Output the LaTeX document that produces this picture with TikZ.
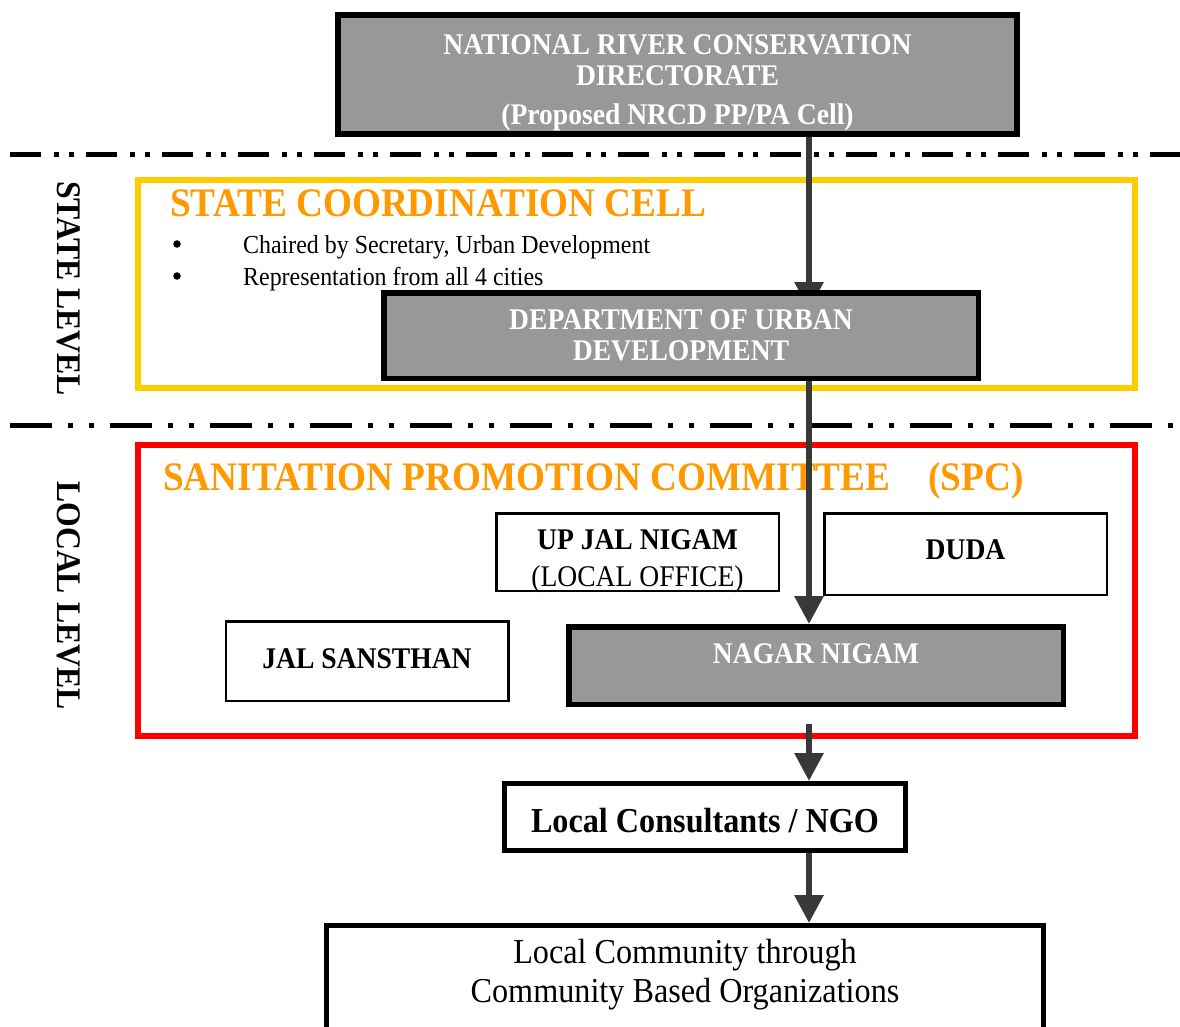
\documentclass[tikz,border=0pt]{standalone}
\usepackage{fontspec}
\setmainfont{Liberation Serif}[FakeStretch=0.92]
\usepackage{tikz}
\usetikzlibrary{arrows.meta, positioning}
\definecolor{boxgray}{HTML}{989898}
\definecolor{linkgray}{HTML}{383838}
\definecolor{cellyellow}{HTML}{FFCC00}
\definecolor{titleorange}{HTML}{FF9900}
\pgfdeclarelayer{frames}
\pgfdeclarelayer{links}
\pgfsetlayers{frames,links,main}
\tikzset{
  govbox/.style={rectangle, draw=black, line width=5.5pt, fill=boxgray,
                 text=white, align=center, inner sep=0pt,
                 font=\bfseries\fontsize{30}{31}\selectfont},
  unitbox/.style={rectangle, draw=black, line width=2.5pt, fill=white,
                  align=center, inner sep=0pt, minimum width=282.5pt,
                  font=\fontsize{30}{37}\selectfont},
  outbox/.style={rectangle, draw=black, line width=5pt, fill=white,
                 align=center, inner sep=0pt},
  frame/.style={rectangle, line width=6pt, inner sep=0pt},
  levelline/.style={line width=5pt},
  link/.style={draw=linkgray, line width=6pt,
               -{Triangle[width=28pt,length=28pt]}},
  leveltext/.style={rotate=-90, font=\bfseries\fontsize{34.5}{34}\selectfont},
  heading/.style={anchor=base west, inner sep=0pt, text=titleorange,
                  font=\bfseries\fontsize{40.5}{40}\selectfont},
  point/.style={anchor=base west, inner sep=0pt, text height=18pt,
                text depth=6pt, font=\fontsize{26}{26}\selectfont},
  bullet/.style={circle, fill=black, inner sep=0pt, minimum size=7.5pt},
}

\begin{document}
\begin{tikzpicture}[x=1pt, y=-1pt]
  \useasboundingbox (0,0) rectangle (1180,1027);

  \node[govbox, minimum width=679pt, minimum height=119pt,
        text height=104pt, text depth=3pt] (nrcd) at (677.5,74.5)
    {NATIONAL RIVER CONSERVATION\\DIRECTORATE\\[8pt](Proposed NRCD PP/PA Cell)};
  \node[govbox, minimum width=594.5pt, minimum height=85.5pt] (dept) at (681,335.5)
    {DEPARTMENT OF URBAN\\DEVELOPMENT};

  \node[unitbox, minimum height=77.5pt, text height=70pt, text depth=2pt]
    (upjal) at (637.5,552) {\textbf{UP JAL NIGAM}\\(LOCAL OFFICE)};
  \node[unitbox, minimum height=81.5pt, text height=20pt, text depth=10pt,
        font=\bfseries\fontsize{30}{37}\selectfont] (duda) at (965.5,554) {DUDA};
  \node[unitbox, minimum height=79.5pt, text height=20pt, text depth=6pt,
        font=\bfseries\fontsize{30}{37}\selectfont] (jal) at (367,661) {JAL SANSTHAN};
  \node[govbox, minimum width=494.5pt, minimum height=77.5pt,
        text height=20pt, text depth=25pt] (nagar) at (816,665.5) {NAGAR NIGAM};

  \node[outbox, minimum width=401pt, minimum height=67pt,
        text height=30pt, text depth=0pt,
        font=\bfseries\fontsize{35}{40}\selectfont] (consult) at (705,817)
    {Local Consultants / NGO};
  \node[outbox, anchor=north, minimum width=717pt, minimum height=130pt,
        text height=63pt, text depth=40pt,
        font=\fontsize{35}{39}\selectfont] (comm) at (685,923)
    {Local Community through\\Community Based Organizations};

  \node[leveltext] (statelvl) at (68.5,288.5) {STATE LEVEL};
  \node[leveltext] (locallvl) at (68.5,595.5) {LOCAL LEVEL};

  \begin{pgfonlayer}{frames}
    \draw[levelline, dash pattern=on 31pt off 13pt on 5pt off 10pt on 5pt off 12pt]
      (10,155) -- (1180,155);
    \draw[levelline, dash pattern=on 42pt off 16pt on 5pt off 16pt on 5pt off 16pt]
      (10,425) -- (1180,425);
    \node[frame, draw=cellyellow, minimum width=997pt, minimum height=208pt]
      (statecell) at (636.5,284) {};
    \node[frame, draw=red, minimum width=997pt, minimum height=291pt]
      (spc) at (636.5,590.5) {};
    \node[heading] (statehead) at (170,217) {STATE COORDINATION CELL};
    \node[bullet] (dot1) at (177,244) {};
    \node[point] (chair) at (243,253) {Chaired by Secretary, Urban Development};
    \node[bullet] (dot2) at (177,276) {};
    \node[point] (cities) at (243,285) {Representation from all 4 cities};
    \node[heading] (spchead) at (163,490)
      {SANITATION PROMOTION COMMITTEE\hspace{38pt}(SPC)};
  \end{pgfonlayer}

  \coordinate (spine) at (809,0);
  \begin{pgfonlayer}{links}
    \draw[link, shorten >=-20pt] (nrcd.south -| spine) -- (dept.north -| spine);
    \draw[link] (dept.south -| spine) -- (nagar.north -| spine);
    \draw[link, shorten <=17pt] (nagar.south -| spine) -- (consult.north -| spine);
    \draw[link] (consult.south -| spine) -- (comm.north -| spine);
  \end{pgfonlayer}
\end{tikzpicture}
\end{document}
